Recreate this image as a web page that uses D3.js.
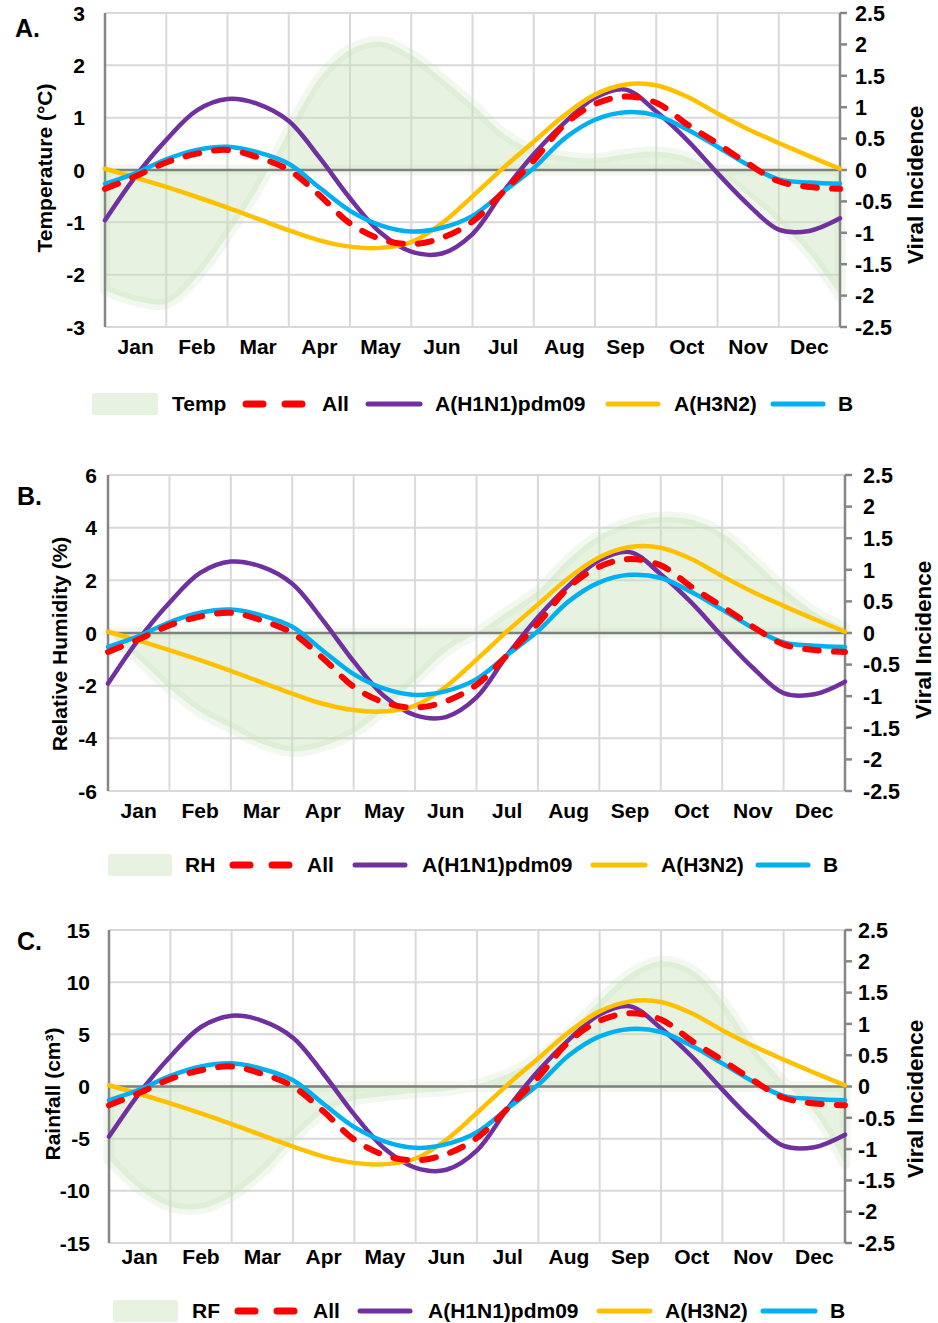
<!DOCTYPE html>
<html>
<head>
<meta charset="utf-8">
<script src="https://cdn.jsdelivr.net/npm/d3@7"></script>
<style>
body { margin: 0; background: #fff; }
text { font-family: "Liberation Sans", Arial, sans-serif; font-weight: bold; fill: #000; }
</style>
</head>
<body>
<svg id="chart" width="938" height="1323"></svg>
<script>
// months on the x axis, sample points every half month
var months = ["Jan", "Feb", "Mar", "Apr", "May", "Jun", "Jul", "Aug", "Sep", "Oct", "Nov", "Dec"];
var xPts = [0, 0.5, 1, 1.5, 2, 2.5, 3, 3.5, 4, 4.5, 5, 5.5, 6, 6.5, 7, 7.5, 8, 8.5, 9, 9.5, 10, 10.5, 11, 11.5, 12];

// viral incidence (right axis), same in all three panels
var allInc  = [-0.3, -0.1, 0.12, 0.26, 0.32, 0.2, 0.0, -0.4, -0.85, -1.1, -1.18, -1.08, -0.82, -0.35, 0.15, 0.72, 1.05, 1.17, 1.07, 0.73, 0.42, 0.1, -0.18, -0.27, -0.3];
var h1n1Inc = [-0.8, -0.1, 0.48, 0.95, 1.13, 1.05, 0.78, 0.2, -0.45, -1.0, -1.3, -1.33, -1.02, -0.35, 0.25, 0.75, 1.15, 1.28, 0.93, 0.48, -0.05, -0.55, -0.95, -0.97, -0.77];
var h3n2Inc = [0.02, -0.12, -0.27, -0.43, -0.6, -0.78, -0.96, -1.12, -1.22, -1.24, -1.15, -0.85, -0.42, 0.03, 0.45, 0.87, 1.2, 1.36, 1.35, 1.17, 0.9, 0.65, 0.43, 0.22, 0.02];
var bInc    = [-0.22, -0.05, 0.17, 0.32, 0.37, 0.28, 0.1, -0.28, -0.65, -0.88, -0.98, -0.92, -0.73, -0.35, 0.03, 0.5, 0.8, 0.92, 0.87, 0.65, 0.37, 0.08, -0.15, -0.2, -0.22];

// climate anomalies (left axis)
var tempVals = [-2.3, -2.5, -2.55, -2.05, -1.25, -0.35, 0.75, 1.75, 2.3, 2.45, 2.2, 1.75, 1.25, 0.7, 0.38, 0.26, 0.22, 0.3, 0.35, 0.25, -0.05, -0.5, -1.0, -1.6, -2.4];
var rhVals   = [0, -1.0, -2.1, -3.0, -3.6, -4.2, -4.5, -4.3, -3.8, -2.9, -1.8, -0.7, 0.0, 0.8, 1.6, 2.8, 3.7, 4.2, 4.4, 4.3, 3.8, 2.8, 1.7, 0.8, 0.2];
var rfVals   = [-7.0, -9.8, -11.5, -11.7, -10.5, -8.2, -5.1, -2.5, -1.3, -0.9, -0.6, -0.4, 0.2, 1.2, 2.8, 5.2, 8.2, 10.8, 12.0, 11.2, 8.2, 3.8, 0.4, -2.5, -7.4];

// axis ticks
var tempTicks = [3, 2, 1, 0, -1, -2, -3];
var rhTicks   = [6, 4, 2, 0, -2, -4, -6];
var rfTicks   = [15, 10, 5, 0, -5, -10, -15];
var incTicks  = [2.5, 2, 1.5, 1, 0.5, 0, -0.5, -1, -1.5, -2, -2.5];

var seriesNames = ["All", "A(H1N1)pdm09", "A(H3N2)", "B"];
var seriesData  = [allInc, h1n1Inc, h3n2Inc, bInc];
var seriesColor = ["#ff0000", "#7030a0", "#ffc000", "#00b0f0"];

var panels = [
  { letter: "A.", lx: 15, ly: 37, title: "Temperature (°C)", tx: 45, ty: 168, rtx: 915, rty: 185,
    clim: tempVals, climName: "Temp", domain: [-3, 3], ticks: tempTicks,
    x0: 105, x1: 840, y0: 13, y1: 327, monthY: 354, leftLab: 85, rightLab: 855,
    leg: { y: 404, rect: [92, 158], climText: 172, items: [[243, 305, 322], [365, 423, 435], [605, 661, 674], [770, 826, 838]] } },
  { letter: "B.", lx: 17, ly: 505, title: "Relative Humidity (%)", tx: 60, ty: 644, rtx: 923, rty: 640,
    clim: rhVals, climName: "RH", domain: [-6, 6], ticks: rhTicks,
    x0: 108, x1: 845, y0: 475, y1: 791, monthY: 818, leftLab: 97, rightLab: 863,
    leg: { y: 865, rect: [108, 172], climText: 185, items: [[230, 292, 307], [352, 408, 422], [590, 648, 661], [755, 811, 823]] } },
  { letter: "C.", lx: 17, ly: 950, title: "Rainfall (cm³)", tx: 53, ty: 1094, rtx: 915, rty: 1099,
    clim: rfVals, climName: "RF", domain: [-15, 15], ticks: rfTicks,
    x0: 109, x1: 845, y0: 930, y1: 1243, monthY: 1264, leftLab: 90, rightLab: 858,
    leg: { y: 1311, rect: [113, 178], climText: 192, items: [[235, 297, 313], [357, 413, 428], [596, 653, 665], [760, 818, 830]] } }
];

var svg = d3.select("#chart");
var green = "rgb(197,224,180)";

panels.forEach(function(p) {
  var g = svg.append("g");
  var x = d3.scaleLinear().domain([0, 12]).range([p.x0, p.x1]);
  var yL = d3.scaleLinear().domain(p.domain).range([p.y1, p.y0]);
  var yR = d3.scaleLinear().domain([-2.5, 2.5]).range([p.y1, p.y0]);

  // grid
  g.selectAll(".hgrid").data(p.ticks).enter().append("line")
    .attr("x1", p.x0).attr("x2", p.x1)
    .attr("y1", d => yL(d)).attr("y2", d => yL(d))
    .attr("stroke", "#d9d9d9").attr("stroke-width", 2);
  g.selectAll(".vgrid").data(d3.range(1, 12)).enter().append("line")
    .attr("x1", d => x(d)).attr("x2", d => x(d))
    .attr("y1", p.y0).attr("y2", p.y1)
    .attr("stroke", "#d9d9d9").attr("stroke-width", 2);

  // climate area
  var area = d3.area()
    .x((d, i) => x(xPts[i]))
    .y0(yL(0))
    .y1(d => yL(d))
    .curve(d3.curveCatmullRom);
  g.append("path").attr("d", area(p.clim))
    .attr("fill", "none").attr("stroke", green).attr("stroke-opacity", 0.22)
    .attr("stroke-width", 11).attr("stroke-linejoin", "round");
  g.append("path").attr("d", area(p.clim))
    .attr("fill", green).attr("fill-opacity", 0.42);

  // zero line
  g.append("line").attr("x1", p.x0).attr("x2", p.x1)
    .attr("y1", yL(0)).attr("y2", yL(0))
    .attr("stroke", "#808080").attr("stroke-width", 2.5);

  // axes
  g.append("line").attr("x1", p.x0).attr("x2", p.x0)
    .attr("y1", p.y0).attr("y2", p.y1)
    .attr("stroke", "#868686").attr("stroke-width", 2.5);
  g.append("line").attr("x1", p.x1).attr("x2", p.x1)
    .attr("y1", p.y0).attr("y2", p.y1)
    .attr("stroke", "#868686").attr("stroke-width", 2.5);
  g.selectAll(".rtick").data(incTicks).enter().append("line")
    .attr("x1", p.x1).attr("x2", p.x1 + 7)
    .attr("y1", d => yR(d)).attr("y2", d => yR(d))
    .attr("stroke", "#868686").attr("stroke-width", 2.5);

  // incidence lines
  var line = d3.line()
    .x((d, i) => x(xPts[i]))
    .y(d => yR(d))
    .curve(d3.curveCatmullRom);
  [1, 2, 3, 0].forEach(function(k) {
    var path = g.append("path").attr("d", line(seriesData[k]))
      .attr("fill", "none").attr("stroke", seriesColor[k])
      .attr("stroke-linecap", "round").attr("stroke-linejoin", "round");
    if (k === 0) {
      path.attr("stroke-width", 6).attr("stroke-dasharray", "14,15");
    } else {
      path.attr("stroke-width", 4.5);
    }
  });

  // tick labels
  g.selectAll(".llab").data(p.ticks).enter().append("text")
    .attr("x", p.leftLab).attr("y", d => yL(d)).attr("dy", "0.36em")
    .attr("text-anchor", "end").style("font-size", "21px")
    .text(d => String(d));
  g.selectAll(".rlab").data(incTicks).enter().append("text")
    .attr("x", p.rightLab).attr("y", d => yR(d)).attr("dy", "0.36em")
    .style("font-size", "21.5px")
    .text(d => String(d));
  g.selectAll(".mlab").data(months).enter().append("text")
    .attr("x", (d, i) => x(i + 0.5)).attr("y", p.monthY)
    .attr("text-anchor", "middle").style("font-size", "21px")
    .text(d => d);

  // titles
  g.append("text").attr("x", p.lx).attr("y", p.ly).style("font-size", "25px").text(p.letter);
  g.append("text").attr("transform", "translate(" + p.tx + "," + p.ty + ") rotate(-90)")
    .attr("text-anchor", "middle").attr("dy", "0.35em").style("font-size", "21px").text(p.title);
  g.append("text").attr("transform", "translate(" + p.rtx + "," + p.rty + ") rotate(-90)")
    .attr("text-anchor", "middle").attr("dy", "0.35em").style("font-size", "22.5px").text("Viral Incidence");

  // legend
  var L = p.leg;
  g.append("rect").attr("x", L.rect[0]).attr("y", L.y - 11)
    .attr("width", L.rect[1] - L.rect[0]).attr("height", 22).attr("rx", 3)
    .attr("fill", green).attr("fill-opacity", 0.42);
  g.append("text").attr("x", L.climText).attr("y", L.y + 7).style("font-size", "21px").text(p.climName);
  L.items.forEach(function(it, k) {
    var ln = g.append("line").attr("x1", it[0] + 3).attr("x2", it[1] - 3)
      .attr("y1", L.y).attr("y2", L.y)
      .attr("stroke", seriesColor[k]).attr("stroke-linecap", "round");
    if (k === 0) {
      ln.attr("stroke-width", 7).attr("stroke-dasharray", "17,22");
    } else {
      ln.attr("stroke-width", 5);
    }
    g.append("text").attr("x", it[2]).attr("y", L.y + 7).style("font-size", "21px").text(seriesNames[k]);
  });
});
</script>
</body>
</html>
